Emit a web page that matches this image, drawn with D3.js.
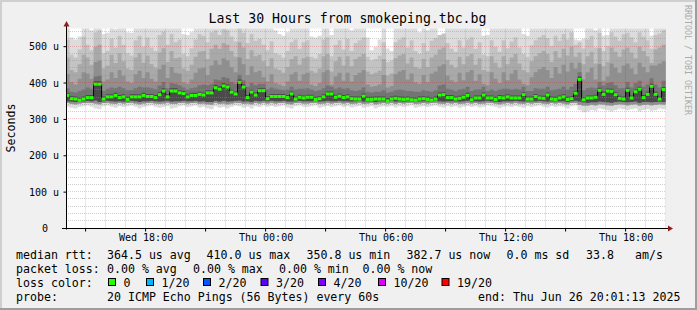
<!DOCTYPE html>
<html>
<head>
<meta charset="utf-8">
<script src="https://cdn.jsdelivr.net/npm/d3@7/dist/d3.min.js"></script>
<style>
  html, body { margin: 0; padding: 0; background: #f0f0f0; }
  svg { display: block; }
  text { font-family: "DejaVu Sans Mono", monospace; fill: #000; }
</style>
</head>
<body>
<div id="chart"></div>
<script>
// time window of the graph (UTC used as wall clock)
const startTime = new Date(Date.UTC(2025, 5, 25, 14, 1, 13));
const endTime = new Date(Date.UTC(2025, 5, 26, 20, 1, 13));
const firstBin = new Date(Date.UTC(2025, 5, 25, 14, 0, 0));
const binMinutes = 12;

// median rtt per 12-minute bin (microseconds)
const median = [
  366,357,356,353,356,360,360,397,397,356,
  362,362,366,360,362,355,362,362,362,366,
  363,363,360,368,378,362,378,378,373,371,
  362,366,366,369,367,373,373,387,383,392,
  389,375,370,402,389,360,375,367,379,379,
  357,363,363,363,363,360,370,356,361,359,
  361,361,355,357,362,370,370,361,364,360,
  362,357,356,356,364,355,355,356,356,356,
  351,356,358,356,355,356,354,353,356,357,
  355,353,356,367,368,360,360,356,358,361,
  366,354,359,359,367,359,359,355,360,359,
  362,359,359,359,368,356,356,363,359,358,
  367,356,355,359,362,355,357,372,410,354,
  359,359,361,380,369,378,377,368,358,356,
  380,359,376,383,360,369,391,369,356,382
];

// smoke band tops, outer (slowest ping) to inner
const top1 = [
  560,525,520,528,560,560,545,560,560,535,
  538,560,548,560,560,540,538,560,560,560,
  560,560,560,560,560,560,560,560,560,535,
  532,540,560,560,560,560,560,560,560,560,
  560,560,560,560,560,560,560,560,560,560,
  560,560,545,535,530,540,560,560,560,560,
  560,528,525,530,560,560,532,560,560,560,
  560,545,560,560,560,525,490,500,520,560,
  495,488,560,560,560,560,560,560,540,560,
  545,560,560,530,528,560,560,560,560,560,
  560,560,560,560,530,532,560,560,560,560,
  560,560,560,560,535,530,560,560,560,560,
  560,560,560,560,560,560,560,520,518,522,
  560,560,545,560,530,532,560,560,560,560,
  560,560,560,560,560,560,530,560,560,560
];
const top2 = [
  520,478,470,492,528,505,490,540,545,482,
  488,522,498,530,505,482,476,518,530,500,
  525,498,488,532,542,505,535,512,520,480,
  474,496,520,535,530,512,540,545,532,548,
  545,528,515,550,538,510,535,516,522,505,
  490,515,482,478,470,488,512,520,494,512,
  518,472,468,480,520,526,474,505,518,492,
  522,488,510,518,525,472,462,466,476,512,
  458,462,512,520,526,498,518,488,480,510,
  488,516,524,532,536,510,494,486,518,498,
  520,526,494,512,478,474,518,500,486,518,
  496,514,526,498,480,472,504,518,526,532,
  524,502,530,516,535,520,540,505,512,495,
  520,530,498,538,488,502,540,528,516,534,
  538,526,512,540,528,518,494,532,536,545
];
const top3 = [
  470,436,430,452,478,470,450,500,505,440,
  448,478,455,482,460,440,436,470,482,456,
  476,452,442,484,496,458,488,468,470,440,
  434,450,472,486,488,466,494,505,494,510,
  505,488,472,512,498,466,490,474,478,460,
  446,468,440,436,428,444,466,474,450,468,
  472,434,428,440,474,480,432,460,472,448,
  474,446,466,472,480,432,424,428,434,466,
  420,426,468,476,480,454,470,444,440,466,
  444,470,478,492,498,464,450,442,472,452,
  474,480,450,468,436,432,474,456,442,474,
  452,470,480,454,436,430,460,474,482,488,
  480,458,488,470,494,476,500,472,484,452,
  474,486,454,496,446,458,498,486,472,492,
  498,484,468,500,488,474,456,492,498,505
];
const top4 = [
  425,402,396,412,430,426,412,458,462,404,
  410,430,414,436,420,404,400,424,434,414,
  430,412,404,438,450,414,444,428,426,402,
  398,410,428,440,442,422,448,462,450,468,
  462,444,430,470,452,422,446,430,434,416,
  404,424,400,396,392,404,424,430,406,424,
  428,396,392,400,430,436,396,418,428,406,
  428,404,422,428,436,396,390,392,396,422,
  388,392,424,432,436,410,426,402,398,422,
  402,426,432,446,452,420,408,402,428,408,
  430,436,406,424,398,394,430,412,400,430,
  408,426,436,410,398,394,416,430,438,444,
  436,414,444,426,450,432,456,440,456,410,
  430,442,410,452,406,418,454,442,428,448,
  454,440,424,456,444,430,448,448,454,460
];
const top5 = [
  386,376,374,378,382,388,384,418,420,378,
  384,388,386,390,386,380,380,386,390,388,
  388,386,383,393,403,386,400,398,394,388,
  382,386,388,394,396,394,398,410,408,416,
  413,403,398,423,408,390,400,394,398,398,
  383,388,384,382,380,382,390,382,384,384,
  386,382,378,380,386,393,390,384,388,384,
  386,380,378,380,388,376,374,376,376,380,
  373,376,380,382,380,378,378,376,376,380,
  378,376,380,393,396,384,382,378,382,384,
  390,378,382,383,390,378,382,378,382,384,
  384,382,384,382,390,378,378,386,384,384,
  390,380,382,384,390,382,390,398,430,380,
  386,388,386,403,393,400,402,394,386,386,
  403,388,400,406,390,396,413,396,388,406
];
const top6 = [
  372,364,363,360,363,367,367,405,405,363,
  369,369,373,367,369,362,369,369,369,373,
  370,370,367,375,386,369,386,386,380,378,
  369,373,373,376,374,380,380,395,391,400,
  397,382,377,410,397,367,382,374,386,386,
  364,370,370,370,370,367,377,363,368,366,
  368,368,362,364,369,377,377,368,371,367,
  369,364,363,363,371,362,362,363,363,363,
  359,363,365,363,362,363,361,360,363,364,
  362,360,363,374,375,367,367,363,365,368,
  373,361,366,366,374,366,366,362,367,366,
  369,366,366,366,375,363,363,370,366,365,
  374,363,362,366,369,362,364,379,418,361,
  366,366,368,387,376,385,384,375,365,363,
  387,366,383,390,367,376,398,376,363,389
];

// smoke band bottoms (fastest pings)
const bot1 = [
  335,332,330,334,336,338,335,330,328,336,
  338,335,332,336,334,336,338,335,330,334,
  336,338,335,332,334,337,330,332,336,338,
  334,336,338,333,335,330,328,336,332,334,
  330,335,338,336,332,335,330,336,334,338,
  335,337,334,336,338,333,330,336,338,335,
  334,336,338,332,335,337,334,336,338,334,
  336,333,335,337,332,334,336,330,334,336,
  335,337,333,336,334,336,338,332,335,336,
  334,336,338,335,333,336,334,336,332,335,
  337,334,336,333,335,338,336,334,331,335,
  336,334,337,335,332,336,334,336,338,335,
  333,336,334,336,335,330,336,338,325,320,
  322,326,324,330,328,325,322,326,330,328,
  325,328,330,322,326,328,324,326,330,328
];
const bot2 = [
  345,343,342,344,345,346,345,344,342,345,
  346,344,343,345,344,345,346,344,342,344,
  345,346,344,343,344,346,343,343,345,346,
  344,345,346,343,344,342,341,345,343,344,
  342,344,346,345,343,344,342,345,344,346,
  344,346,344,345,346,343,342,345,346,344,
  344,345,346,343,344,346,344,345,346,344,
  345,343,344,346,343,344,345,342,344,345,
  344,346,343,345,344,345,346,343,344,345,
  344,345,346,344,343,345,344,345,343,344,
  346,344,345,343,344,346,345,344,342,344,
  345,344,346,344,343,345,344,345,346,344,
  343,345,344,345,344,342,345,346,340,338,
  338,340,339,342,341,339,338,340,342,341,
  339,341,342,338,340,341,339,340,342,341
];
const bot3 = [
  350,349,348,349,350,351,350,352,348,350,
  351,350,349,350,349,350,351,350,348,350,
  350,351,350,349,350,351,349,350,350,351,
  350,350,351,349,350,348,348,351,349,351,
  349,350,351,352,349,350,348,351,350,351,
  350,351,350,350,351,349,349,350,351,350,
  350,350,351,349,350,351,350,350,351,350,
  350,349,350,351,349,350,350,348,350,350,
  348,351,349,350,349,350,350,349,350,350,
  350,349,351,350,349,350,350,350,349,350,
  351,349,350,349,350,351,350,349,348,350,
  350,350,351,350,349,350,350,350,351,350,
  349,350,350,350,350,348,350,351,349,347,
  346,347,347,349,348,347,346,348,349,348,
  347,348,349,346,348,348,347,348,349,348
];

const yTicks = [0, 100, 200, 300, 400, 500];
const lossLabels = ["0", "1/20", "2/20", "3/20", "4/20", "10/20", "19/20"];
const lossColors = ["#26ff00", "#00b8ff", "#0059ff", "#5e00ff", "#7e00ff", "#dd00ff", "#ff0000"];

const W = 697, H = 310;
const plot = { left: 66, right: 666, top: 28.5, bottom: 228.5 };

const svg = d3.select("#chart").append("svg").attr("width", W).attr("height", H);

// frame
svg.append("rect").attr("width", W).attr("height", H).attr("fill", "#f0f0f0");
svg.append("rect").attr("x", 0).attr("y", 0).attr("width", W).attr("height", 2).attr("fill", "#cfcfcf");
svg.append("rect").attr("x", 0).attr("y", 0).attr("width", 2).attr("height", H).attr("fill", "#cfcfcf");
svg.append("rect").attr("x", W - 2).attr("y", 0).attr("width", 2).attr("height", H).attr("fill", "#9e9e9e");
svg.append("rect").attr("x", 0).attr("y", H - 2).attr("width", W).attr("height", 2).attr("fill", "#9e9e9e");

const x = d3.scaleUtc().domain([startTime, endTime]).range([plot.left, plot.right]);
const y = d3.scaleLinear().domain([0, 550]).range([plot.bottom, plot.top]);

// canvas
svg.append("rect")
  .attr("x", plot.left).attr("y", plot.top)
  .attr("width", plot.right - plot.left).attr("height", plot.bottom - plot.top)
  .attr("fill", "#fff");

svg.append("clipPath").attr("id", "plotclip")
  .append("rect")
  .attr("x", plot.left).attr("y", plot.top)
  .attr("width", plot.right - plot.left).attr("height", plot.bottom - plot.top);

const binStart = (k) => d3.utcMinute.offset(firstBin, k * binMinutes);
const idx = d3.range(median.length + 1);
const at = (arr, k) => arr[Math.min(k, arr.length - 1)];

const data = svg.append("g").attr("clip-path", "url(#plotclip)");

// smoke: outer bands light, inner bands dark
const layers = [
  { top: top1, bottom: bot1, color: "#dcdcdc" },
  { top: top2, bottom: bot2, color: "#c3c3c3" },
  { top: top3, bottom: bot2, color: "#a9a9a9" },
  { top: top4, bottom: bot2, color: "#8f8f8f" },
  { top: top5, bottom: bot3, color: "#747474" },
  { top: top6, bottom: bot3, color: "#4a4a4a" },
];
layers.forEach((l) => {
  const area = d3.area()
    .curve(d3.curveStepAfter)
    .x((k) => x(binStart(k)))
    .y0((k) => y(at(l.bottom, k)))
    .y1((k) => y(at(l.top, k)));
  data.append("path").datum(idx).attr("fill", l.color).attr("d", area);
});

// grid
const grid = svg.append("g").attr("clip-path", "url(#plotclip)");
const px = (v) => Math.floor(v) + 0.5;
const py = (v) => Math.round(v) - 0.5;
const majorColor = "rgba(225,0,0,0.22)";
const minorColor = "rgba(140,140,140,0.42)";
d3.utcHour.range(startTime, endTime).forEach((h) => {
  const major = h.getUTCHours() % 3 === 0;
  grid.append("line")
    .attr("x1", px(x(h))).attr("x2", px(x(h)))
    .attr("y1", plot.top).attr("y2", plot.bottom)
    .attr("stroke", major ? majorColor : minorColor)
    .attr("stroke-dasharray", "1,1");
});
d3.range(20, 560, 20).forEach((v) => {
  const major = v % 100 === 0;
  grid.append("line")
    .attr("x1", plot.left).attr("x2", plot.right + 2)
    .attr("y1", py(y(v))).attr("y2", py(y(v)))
    .attr("stroke", major ? majorColor : minorColor)
    .attr("stroke-dasharray", "1,1");
});

// median line: black steps, green per bin
const medLine = d3.line()
  .curve(d3.curveStepAfter)
  .x((k) => x(binStart(k)))
  .y((k) => y(at(median, k)));
data.append("path").datum(idx)
  .attr("fill", "none").attr("stroke", "#000").attr("stroke-width", 1)
  .attr("d", medLine);
data.selectAll("rect.med").data(median).join("rect")
  .attr("class", "med")
  .attr("x", (d, k) => x(binStart(k)))
  .attr("width", (d, k) => x(binStart(k + 1)) - x(binStart(k)))
  .attr("y", (d) => y(d) - 1.5)
  .attr("height", 3)
  .attr("fill", lossColors[0]);

// axes
const yAxis = d3.axisLeft(y)
  .tickValues(yTicks)
  .tickSize(3)
  .tickPadding(4.5)
  .tickFormat((d) => (d === 0 ? "0" : d + " u"));
const gy = svg.append("g").attr("transform", `translate(${plot.left + 0.5},0)`).call(yAxis);
gy.select(".domain").remove();
gy.selectAll(".tick line").attr("transform", "translate(0,-0.5)");
gy.selectAll("text").style("font-size", "10px").attr("font-family", null);
gy.selectAll(".tick").filter((d) => d === 0).select("text").attr("x", -18.5);

const xAxis = d3.axisBottom(x)
  .tickValues(d3.utcHour.every(3).range(startTime, endTime))
  .tickSize(3)
  .tickPadding(2.1)
  .tickFormat((d) => (d.getUTCHours() % 6 === 0 ? d3.utcFormat("%a %H:%M")(d) : ""));
const gx = svg.append("g").attr("transform", `translate(0,${plot.bottom})`).call(xAxis);
gx.select(".domain").remove();
gx.selectAll(".tick line").attr("transform", "translate(-0.5,0)");
gx.selectAll("text").style("font-size", "10px").attr("font-family", null);

// axis lines and arrows
svg.append("line")
  .attr("x1", plot.left + 0.5).attr("x2", plot.left + 0.5)
  .attr("y1", plot.bottom + 1).attr("y2", 25)
  .attr("stroke", "#000");
svg.append("line")
  .attr("x1", 62).attr("x2", 669)
  .attr("y1", plot.bottom).attr("y2", plot.bottom)
  .attr("stroke", "#000");
svg.append("path").attr("d", "M63.5,26.5L69.5,26.5L66.5,21Z").attr("fill", "#8e1d1d");
svg.append("path").attr("d", "M668,225.5L668,231.5L673,228.5Z").attr("fill", "#8e1d1d");

// titles
svg.append("text")
  .attr("x", 347.5).attr("y", 23)
  .attr("text-anchor", "middle")
  .style("font-size", "13.2px")
  .text("Last 30 Hours from smokeping.tbc.bg");
svg.append("text")
  .attr("transform", "translate(14.5,128) rotate(-90)")
  .attr("text-anchor", "middle")
  .style("font-size", "11.6px")
  .text("Seconds");
svg.append("text")
  .attr("transform", "translate(685,5) rotate(90)")
  .style("font-size", "8.3px")
  .style("fill", "#aaaaaa")
  .text("RRDTOOL / TOBI OETIKER");

// legend
const legend = svg.append("g").style("font-size", "11.6px");
const legendText = [
  [16, 258.5, "median rtt:"], [107, 258.5, "364.5 us avg"], [206.5, 258.5, "410.0 us max"],
  [306.5, 258.5, "350.8 us min"], [406.5, 258.5, "382.7 us now"], [506.5, 258.5, "0.0 ms sd"],
  [586, 258.5, "33.8"], [635, 258.5, "am/s"],
  [16, 272.5, "packet loss:"], [107, 272.5, "0.00 % avg"], [193, 272.5, "0.00 % max"],
  [279, 272.5, "0.00 % min"], [362.5, 272.5, "0.00 % now"],
  [16, 286.5, "loss color:"],
  [16, 300.5, "probe:"], [107, 300.5, "20 ICMP Echo Pings (56 Bytes) every 60s"],
  [478, 300.5, "end: Thu Jun 26 20:01:13 2025"],
];
legendText.forEach(([lx, ly, t]) => legend.append("text").attr("x", lx).attr("y", ly).text(t));

const swatchX = [108.5, 146.5, 203.5, 261, 318.5, 378.5, 442];
lossLabels.forEach((lab, i) => {
  legend.append("rect")
    .attr("x", swatchX[i]).attr("y", 278.5)
    .attr("width", 7).attr("height", 7)
    .attr("fill", lossColors[i]).attr("stroke", "#000");
  legend.append("text").attr("x", swatchX[i] + 15).attr("y", 286.5).text(lab);
});
</script>
</body>
</html>
